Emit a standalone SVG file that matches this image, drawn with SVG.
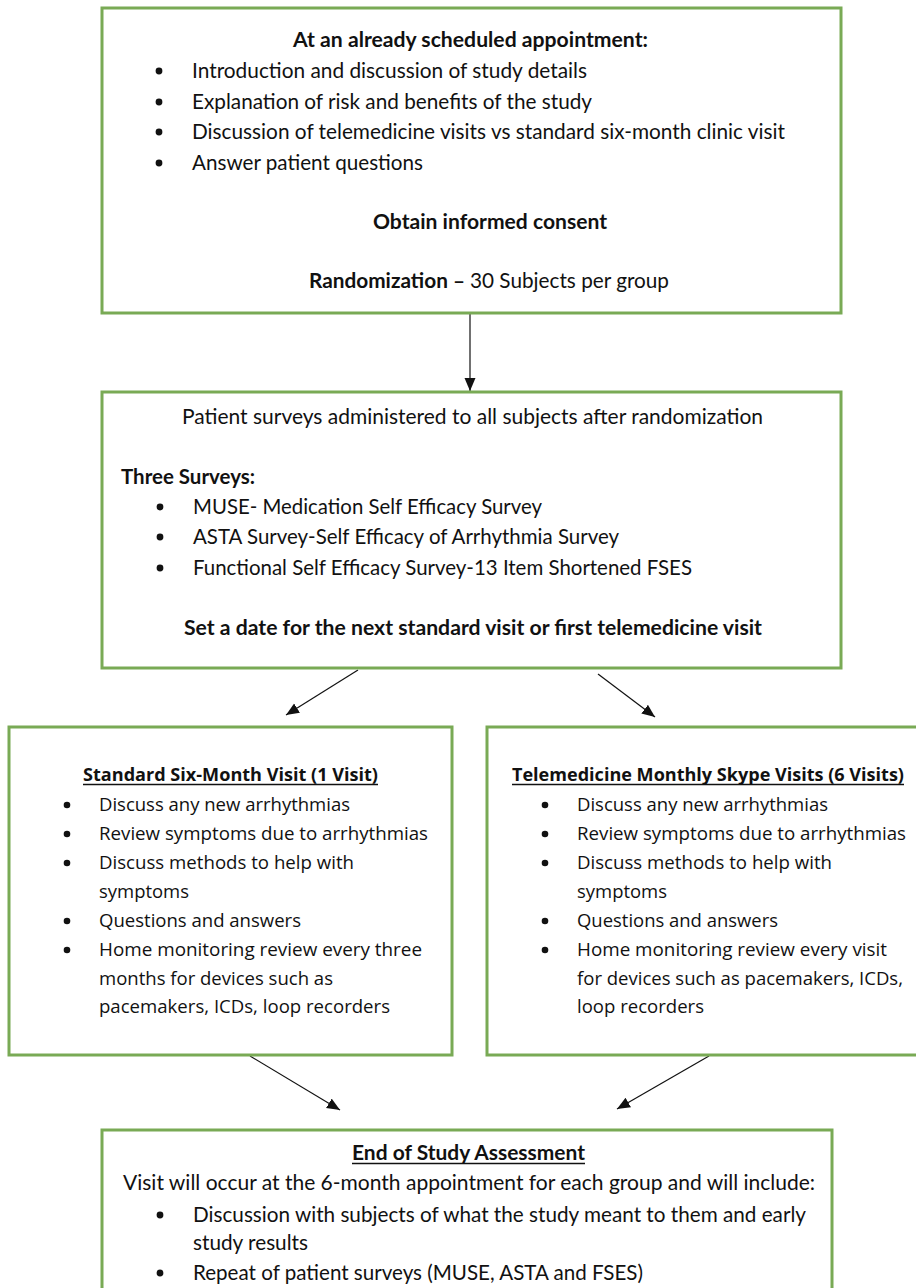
<svg xmlns="http://www.w3.org/2000/svg" width="916" height="1288" viewBox="0 0 916 1288">
  <style>
    .box { fill: #ffffff; stroke: #79aa55; stroke-width: 3; }
    .c { font-family: Lato, "Liberation Sans", sans-serif; font-size: 21px; fill: #111111; }
    .cb { font-family: Lato, "Liberation Sans", sans-serif; font-size: 21px; font-weight: bold; fill: #111111; }
    .k { font-family: "Open Sans", "Noto Sans", "Liberation Sans", sans-serif; font-size: 18px; fill: #111111; }
    .kb { font-family: "Open Sans", "Noto Sans", "Liberation Sans", sans-serif; font-size: 18px; font-weight: bold; fill: #111111; }
    .bul { fill: #111111; }
    .ul { stroke: #111111; stroke-width: 1.5; }
    .conn { stroke: #111111; stroke-width: 1.2; fill: none; marker-end: url(#ah); }
  </style>
  <defs>
    <marker id="ah" markerUnits="userSpaceOnUse" markerWidth="14" markerHeight="12" refX="13" refY="5.5" orient="auto">
      <path d="M0,0 L13,5.5 L0,11 Z" fill="#111111"/>
    </marker>
  </defs>
  <rect x="0" y="0" width="916" height="1288" fill="#ffffff"/>

  <g id="connectors">
    <line class="conn" x1="470" y1="314" x2="470" y2="391"/>
    <line class="conn" x1="358" y1="670" x2="286" y2="715"/>
    <line class="conn" x1="598" y1="674" x2="655" y2="717"/>
    <line class="conn" x1="250" y1="1056" x2="340" y2="1110"/>
    <line class="conn" x1="709" y1="1056" x2="617" y2="1109"/>
  </g>

  <g id="node-consent">
    <rect class="box" x="102" y="8" width="739" height="305"/>
    <text class="cb" x="293" y="47" textLength="355" lengthAdjust="spacingAndGlyphs">At an already scheduled appointment:</text>
    <circle class="bul" cx="159" cy="71" r="3.4"/>
    <circle class="bul" cx="159" cy="102" r="3.4"/>
    <circle class="bul" cx="159" cy="132" r="3.4"/>
    <circle class="bul" cx="159" cy="163" r="3.4"/>
    <text class="c" x="192" y="78" textLength="395" lengthAdjust="spacingAndGlyphs">Introduction and discussion of study details</text>
    <text class="c" x="192" y="109" textLength="400" lengthAdjust="spacingAndGlyphs">Explanation of risk and benefits of the study</text>
    <text class="c" x="192" y="139" textLength="593" lengthAdjust="spacingAndGlyphs">Discussion of telemedicine visits vs standard six-month clinic visit</text>
    <text class="c" x="192" y="170" textLength="231" lengthAdjust="spacingAndGlyphs">Answer patient questions</text>
    <text class="cb" x="373" y="229" textLength="234" lengthAdjust="spacingAndGlyphs">Obtain informed consent</text>
    <text class="cb" x="309" y="288" textLength="156" lengthAdjust="spacingAndGlyphs">Randomization –</text>
    <text class="c" x="470" y="288" textLength="199" lengthAdjust="spacingAndGlyphs">30 Subjects per group</text>
  </g>

  <g id="node-surveys">
    <rect class="box" x="102" y="392" width="739" height="276"/>
    <text class="c" x="182" y="424" textLength="581" lengthAdjust="spacingAndGlyphs">Patient surveys administered to all subjects after randomization</text>
    <text class="cb" x="121" y="484" textLength="134" lengthAdjust="spacingAndGlyphs">Three Surveys:</text>
    <circle class="bul" cx="160" cy="507" r="3.4"/>
    <circle class="bul" cx="160" cy="537" r="3.4"/>
    <circle class="bul" cx="160" cy="568" r="3.4"/>
    <text class="c" x="193" y="514" textLength="349" lengthAdjust="spacingAndGlyphs">MUSE- Medication Self Efficacy Survey</text>
    <text class="c" x="193" y="544" textLength="426" lengthAdjust="spacingAndGlyphs">ASTA Survey-Self Efficacy of Arrhythmia Survey</text>
    <text class="c" x="193" y="575" textLength="499" lengthAdjust="spacingAndGlyphs">Functional Self Efficacy Survey-13 Item Shortened FSES</text>
    <text class="cb" x="184" y="635" textLength="578" lengthAdjust="spacingAndGlyphs">Set a date for the next standard visit or first telemedicine visit</text>
  </g>

  <g id="node-standard">
    <rect class="box" x="9" y="727" width="443" height="328"/>
    <text class="kb" x="83" y="781" textLength="295" lengthAdjust="spacingAndGlyphs">Standard Six-Month Visit (1 Visit)</text>
    <line class="ul" x1="83" y1="784.5" x2="378" y2="784.5"/>
    <circle class="bul" cx="67" cy="805" r="3.3"/>
    <circle class="bul" cx="67" cy="834" r="3.3"/>
    <circle class="bul" cx="67" cy="863" r="3.3"/>
    <circle class="bul" cx="67" cy="921" r="3.3"/>
    <circle class="bul" cx="67" cy="950" r="3.3"/>
    <text class="k" x="99" y="811" textLength="251" lengthAdjust="spacingAndGlyphs">Discuss any new arrhythmias</text>
    <text class="k" x="99" y="840" textLength="329" lengthAdjust="spacingAndGlyphs">Review symptoms due to arrhythmias</text>
    <text class="k" x="99" y="869" textLength="255" lengthAdjust="spacingAndGlyphs">Discuss methods to help with</text>
    <text class="k" x="99" y="898" textLength="90" lengthAdjust="spacingAndGlyphs">symptoms</text>
    <text class="k" x="99" y="927" textLength="202" lengthAdjust="spacingAndGlyphs">Questions and answers</text>
    <text class="k" x="99" y="956" textLength="323" lengthAdjust="spacingAndGlyphs">Home monitoring review every three</text>
    <text class="k" x="99" y="985" textLength="234" lengthAdjust="spacingAndGlyphs">months for devices such as</text>
    <text class="k" x="99" y="1013" textLength="291" lengthAdjust="spacingAndGlyphs">pacemakers, ICDs, loop recorders</text>
  </g>

  <g id="node-telemedicine">
    <rect class="box" x="487" y="727" width="440" height="328"/>
    <text class="kb" x="512" y="781" textLength="392" lengthAdjust="spacingAndGlyphs">Telemedicine Monthly Skype Visits (6 Visits)</text>
    <line class="ul" x1="512" y1="784.5" x2="904" y2="784.5"/>
    <circle class="bul" cx="545" cy="805" r="3.3"/>
    <circle class="bul" cx="545" cy="834" r="3.3"/>
    <circle class="bul" cx="545" cy="863" r="3.3"/>
    <circle class="bul" cx="545" cy="921" r="3.3"/>
    <circle class="bul" cx="545" cy="950" r="3.3"/>
    <text class="k" x="577" y="811" textLength="251" lengthAdjust="spacingAndGlyphs">Discuss any new arrhythmias</text>
    <text class="k" x="577" y="840" textLength="329" lengthAdjust="spacingAndGlyphs">Review symptoms due to arrhythmias</text>
    <text class="k" x="577" y="869" textLength="255" lengthAdjust="spacingAndGlyphs">Discuss methods to help with</text>
    <text class="k" x="577" y="898" textLength="90" lengthAdjust="spacingAndGlyphs">symptoms</text>
    <text class="k" x="577" y="927" textLength="201" lengthAdjust="spacingAndGlyphs">Questions and answers</text>
    <text class="k" x="577" y="956" textLength="310" lengthAdjust="spacingAndGlyphs">Home monitoring review every visit</text>
    <text class="k" x="577" y="985" textLength="326" lengthAdjust="spacingAndGlyphs">for devices such as pacemakers, ICDs,</text>
    <text class="k" x="577" y="1013" textLength="127" lengthAdjust="spacingAndGlyphs">loop recorders</text>
  </g>

  <g id="node-end">
    <rect class="box" x="102" y="1130" width="730" height="180"/>
    <text class="cb" x="352" y="1160" textLength="233" lengthAdjust="spacingAndGlyphs">End of Study Assessment</text>
    <line class="ul" x1="352" y1="1163.5" x2="585" y2="1163.5"/>
    <text class="c" x="123" y="1190" textLength="692" lengthAdjust="spacingAndGlyphs">Visit will occur at the 6-month appointment for each group and will include:</text>
    <circle class="bul" cx="160" cy="1215" r="3.4"/>
    <circle class="bul" cx="160" cy="1273" r="3.4"/>
    <text class="c" x="193" y="1222" textLength="613" lengthAdjust="spacingAndGlyphs">Discussion with subjects of what the study meant to them and early</text>
    <text class="c" x="193" y="1250" textLength="115" lengthAdjust="spacingAndGlyphs">study results</text>
    <text class="c" x="193" y="1280" textLength="450" lengthAdjust="spacingAndGlyphs">Repeat of patient surveys (MUSE, ASTA and FSES)</text>
  </g>
</svg>
